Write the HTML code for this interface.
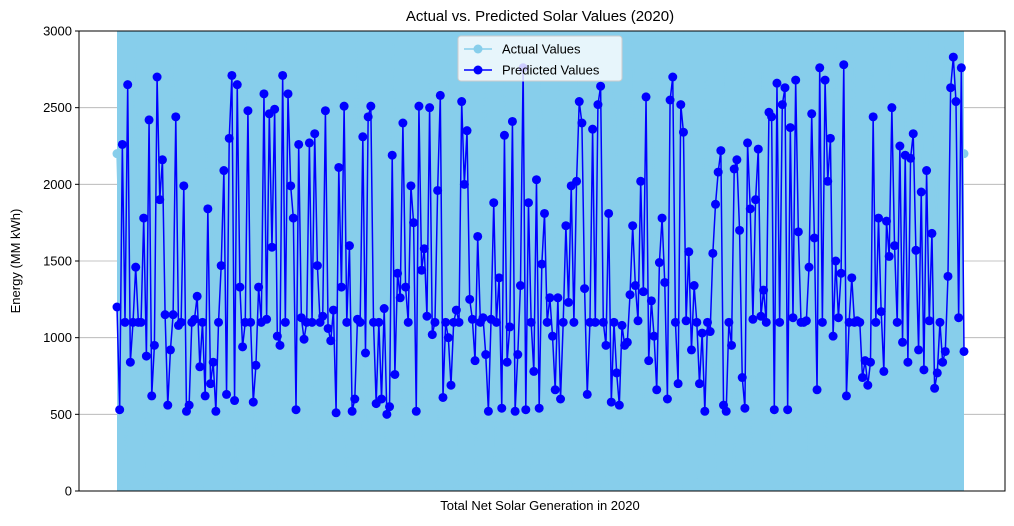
<!DOCTYPE html>
<html><head><meta charset="utf-8"><style>
body{margin:0;background:#fff;font-family:"Liberation Sans",sans-serif;}
svg text{font-family:"Liberation Sans",sans-serif;}
</style></head><body>
<svg id="chart" width="1014" height="521" xmlns="http://www.w3.org/2000/svg">
<defs><clipPath id="plotclip"><rect x="79" y="31" width="926" height="460"/></clipPath></defs>
<rect width="1014" height="521" fill="#fff"/>
<text x="540" y="21" text-anchor="middle" font-size="15">Actual vs. Predicted Solar Values (2020)</text>
<text x="540" y="510" text-anchor="middle" font-size="13">Total Net Solar Generation in 2020</text>
<text transform="translate(20,261) rotate(-90)" text-anchor="middle" font-size="13">Energy (MM kWh)</text>
<g id="grid"></g><g id="actual" clip-path="url(#plotclip)"></g><g id="pred"></g><g id="axes"></g><g id="legend"></g>
</svg>
<script>
const yTicks=[0,500,1000,1500,2000,2500,3000];
const predicted=[1200,530,2260,1100,2650,840,1100,1460,1100,1100,1780,880,2420,620,950,2700,1900,2160,1150,560,920,1150,2440,1080,1100,1990,520,560,1100,1120,1270,810,1100,620,1840,700,840,520,1100,1470,2090,630,2300,2710,590,2650,1330,940,1100,2480,1100,580,820,1330,1100,2590,1120,2460,1590,2490,1010,950,2710,1100,2590,1990,1780,530,2260,1130,990,1100,2270,1100,2330,1470,1100,1140,2480,1060,980,1180,510,2110,1330,2510,1100,1600,520,600,1120,1100,2310,900,2440,2510,1100,570,1100,600,1190,500,550,2190,760,1420,1260,2400,1330,1100,1990,1750,520,2510,1440,1580,1140,2500,1020,1100,1960,2580,610,1100,1000,690,1100,1180,1100,2540,2000,2350,1250,1120,850,1660,1100,1130,890,520,1120,1880,1100,1390,540,2320,840,1070,2410,520,890,1340,2760,530,1880,1100,780,2030,540,1480,1810,1100,1260,1010,660,1260,600,1100,1730,1230,1990,1100,2020,2540,2400,1320,630,1100,2360,1100,2520,2640,1100,950,1810,580,1100,770,560,1080,950,970,1280,1730,1340,1110,2020,1300,2570,850,1240,1010,660,1490,1780,1360,600,2550,2700,1100,700,2520,2340,1110,1560,920,1340,1100,700,1030,520,1100,1040,1550,1870,2080,2220,560,520,1100,950,2100,2160,1700,740,540,2270,1840,1120,1900,2230,1140,1310,1100,2470,2440,530,2660,1100,2520,2630,530,2370,1130,2680,1690,1100,1100,1110,1460,2460,1650,660,2760,1100,2680,2020,2300,1010,1500,1130,1420,2780,620,1100,1390,1100,1110,1100,740,850,690,840,2440,1100,1780,1170,780,1760,1530,2500,1600,1100,2250,970,2190,840,2170,2330,1570,920,1950,790,2090,1110,1680,670,770,1100,840,910,1400,2630,2830,2540,1130,2760,910];
const actual=[2200,30,2990,60,2100,20,2980,90,1780,10,2990,150,1590,40,2970,200,1520,20,2990,300,1330,50,2980,360,950,10,2990,430,720,30,2980,520,600,20,2990,40,2950,10,2990,60,2980,30,2990,20,2970,50,2990,10,2980,40,2990,20,2990,30,2980,60,2990,10,2970,40,2990,20,2980,50,2990,30,2990,10,2980,40,2990,20,2970,60,2990,10,2980,30,2990,600,2980,720,2990,950,2970,1330,2990,1520,2980,1780,2990,2100,2200];
const X0=79,X1=1005,Y0=491,Y1=31,PX0=117,PX1=964;
const y=v=>Y0-(v/3000)*(Y0-Y1);
const xi=(i,n)=>PX0+(PX1-PX0)*i/(n-1);
const NS="http://www.w3.org/2000/svg";
function mk(t,a,p){const e=document.createElementNS(NS,t);for(const k in a)e.setAttribute(k,a[k]);p.appendChild(e);return e;}
const grid=document.getElementById('grid'),axes=document.getElementById('axes');
yTicks.forEach(t=>{
 const g=mk('line',{x1:X0,x2:X1,y1:y(t),y2:y(t),stroke:'#b0b0b0','stroke-width':0.8},grid);
 
 
 const tk=mk('line',{x1:X0-4,x2:X0,y1:y(t),y2:y(t),stroke:'#000'},axes);
 
 
 const l=mk('text',{x:X0-7,y:y(t)+4.5,'text-anchor':'end','font-size':13},axes);l.textContent=t;
 
 
});
const fr=mk('rect',{x:X0,y:Y1,width:X1-X0,height:Y0-Y1,fill:'none',stroke:'#000','stroke-width':1},axes);


const ag=document.getElementById('actual');
const bg=mk('rect',{x:xi(0,actual.length),y:y(3000),width:xi(actual.length-1,actual.length)-xi(0,actual.length),height:y(0)-y(3000),fill:'#87ceeb'},ag);


const apts=actual.map((v,i)=>xi(i,actual.length)+','+y(v)).join(' ');
const al=mk('polyline',{points:apts,fill:'none',stroke:'#87ceeb','stroke-width':1.5},ag);


actual.forEach((v,i)=>{const c=mk('circle',{cx:xi(i,actual.length),cy:y(v),r:4.5,fill:'#87ceeb'},ag);
 
 });
const pg=document.getElementById('pred');
const ppts=predicted.map((v,i)=>xi(i,predicted.length)+','+y(v)).join(' ');
const pl=mk('polyline',{points:ppts,fill:'none',stroke:'#0000ff','stroke-width':1.5},pg);


predicted.forEach((v,i)=>{const c=mk('circle',{cx:xi(i,predicted.length),cy:y(v),r:4.5,fill:'#0000ff'},pg);
 
 });
const lg=document.getElementById('legend');
const lb=mk('rect',{x:458,y:36,width:164,height:45,fill:'#fff','fill-opacity':0.8,stroke:'#ccc',rx:3},lg);


[['Actual Values','#87ceeb',49],['Predicted Values','#0000ff',70]].forEach(([t,c,yy],k)=>{
 const ln=mk('line',{x1:464,x2:492,y1:yy,y2:yy,stroke:c,'stroke-width':1.5},lg);
 
 
 const cc=mk('circle',{cx:478,cy:yy,r:4.5,fill:c},lg);
 
 
 const tx=mk('text',{x:502,y:yy+4.5,'font-size':13},lg);tx.textContent=t;
 
 
});
</script>
</body></html>
